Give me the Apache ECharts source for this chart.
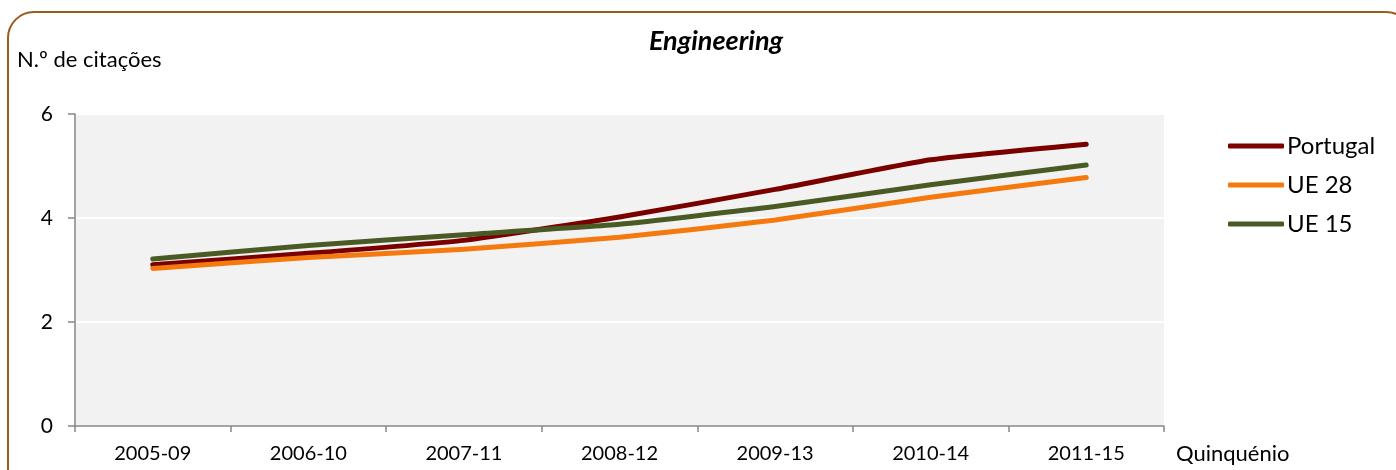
<!DOCTYPE html>
<html>
<head>
<meta charset="utf-8">
<script src="https://cdn.jsdelivr.net/npm/echarts@6/dist/echarts.min.js"></script>
<style>
html,body{margin:0;padding:0;background:#fff;}
#chart{width:1396px;height:470px;}
</style>
</head>
<body>
<div id="chart"></div>
<script>
const categories = ['2005-09','2006-10','2007-11','2008-12','2009-13','2010-14','2011-15'];
const portugal = [3.10, 3.32, 3.57, 4.02, 4.55, 5.12, 5.42];
const ue28 = [3.03, 3.24, 3.40, 3.63, 3.96, 4.40, 4.78];
const ue15 = [3.21, 3.47, 3.68, 3.88, 4.22, 4.64, 5.02];
const yTicks = [0, 2, 4, 6];

const FONT = 'Lato';
const chart = echarts.init(document.getElementById('chart'), null, {renderer: 'canvas'});
const mkSeries = (name, data, color) => ({
  name, type: 'line', data, symbol: 'none', smooth: 0.15,
  lineStyle: {color, width: 5, cap: 'round', join: 'round'},
  itemStyle: {color}
});
chart.setOption({
  animation: false,
  backgroundColor: '#fff',
  title: {
    text: 'Engineering', left: 711, top: 23, textAlign: 'center',
    textStyle: {fontFamily: FONT, fontSize: 27, fontWeight: 'bold', fontStyle: 'italic', color: '#000'}
  },
  grid: {left: 75, right: 232, top: 114, bottom: 44, containLabel: false,
    show: true, backgroundColor: '#f2f2f2', borderWidth: 0},
  legend: {
    orient: 'vertical', left: 1223, top: 129, itemWidth: 56, itemHeight: 5, itemGap: 15,
    icon: 'roundRect',
    textStyle: {fontFamily: FONT, fontSize: 24, color: '#000', padding: [0,0,0,-2], lineHeight: 24},
    data: ['Portugal','UE 28','UE 15']
  },
  xAxis: {
    type: 'category', data: categories, boundaryGap: true,
    axisLine: {show: true, lineStyle: {color: '#868686', width: 1.5}},
    axisTick: {show: true, length: 6, inside: false, lineStyle: {color: '#868686', width: 1.5}},
    axisLabel: {fontFamily: FONT, fontSize: 20, color: '#000', margin: 18},
    splitLine: {show: false}
  },
  yAxis: {
    type: 'value', min: yTicks[0], max: yTicks[yTicks.length-1], interval: 2,
    axisLine: {show: true, lineStyle: {color: '#868686', width: 1.5}},
    axisTick: {show: true, length: 7, inside: false, lineStyle: {color: '#868686', width: 1.5}},
    axisLabel: {fontFamily: FONT, fontSize: 21, color: '#000', margin: 22},
    splitLine: {show: true, lineStyle: {color: '#ffffff', width: 2}}
  },
  graphic: [
    {type: 'rect', shape: {x: 8, y: 12, width: 1404, height: 520, r: 26},
     style: {fill: 'none', stroke: '#9c5a1c', lineWidth: 2}, silent: true, z: -1},
    {type: 'text', left: 17, top: 49,
     style: {text: 'N.º de citações', fontFamily: FONT, fontSize: 22, fill: '#000'}},
    {type: 'text', left: 1176, top: 443,
     style: {text: 'Quinquénio', fontFamily: FONT, fontSize: 22, fill: '#000'}}
  ],
  series: [
    mkSeries('Portugal', portugal, '#7a0000'),
    mkSeries('UE 28', ue28, '#f47a10'),
    mkSeries('UE 15', ue15, '#4a5a24')
  ]
});
</script>
</body>
</html>
